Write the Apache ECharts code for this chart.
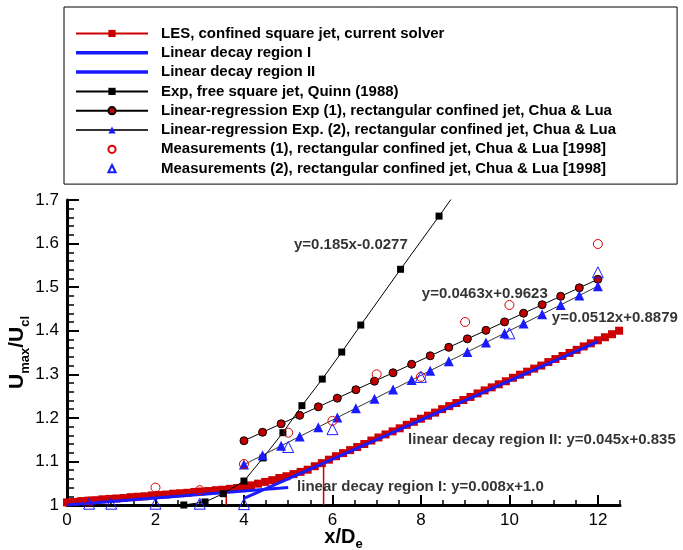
<!DOCTYPE html>
<html><head><meta charset="utf-8">
<script src="https://cdn.jsdelivr.net/npm/echarts@6/dist/echarts.min.js"></script>
<style>html,body{margin:0;padding:0;background:#fff}#c{width:683px;height:550px}</style>
</head><body><div id="c"></div>
<script>
// ---- data ----
const lesX = [0,0.16,0.32,0.48,0.64,0.8,0.96,1.12,1.28,1.44,1.6,1.76,1.92,2.08,2.24,2.4,2.56,2.72,2.88,3.04,3.2,3.36,3.52,3.68,3.84,4.0,4.16,4.32,4.48,4.64,4.8,4.96,5.12,5.28,5.44,5.6,5.76,5.92,6.08,6.24,6.4,6.56,6.72,6.88,7.04,7.2,7.36,7.52,7.68,7.84,8.0,8.16,8.32,8.48,8.64,8.8,8.96,9.12,9.28,9.44,9.6,9.76,9.92,10.08,10.24,10.4,10.56,10.72,10.88,11.04,11.2,11.36,11.52,11.68,11.84,12.0,12.16,12.32,12.48];
const lesY = [1.006,1.007,1.009,1.010,1.011,1.013,1.014,1.015,1.016,1.018,1.019,1.020,1.022,1.023,1.024,1.026,1.027,1.028,1.030,1.031,1.032,1.034,1.035,1.037,1.039,1.042,1.045,1.049,1.053,1.057,1.062,1.066,1.071,1.076,1.081,1.089,1.096,1.104,1.112,1.119,1.126,1.133,1.140,1.148,1.155,1.162,1.169,1.176,1.184,1.191,1.198,1.205,1.212,1.220,1.227,1.234,1.241,1.248,1.256,1.263,1.270,1.277,1.284,1.292,1.299,1.306,1.313,1.320,1.328,1.335,1.342,1.349,1.356,1.364,1.371,1.378,1.385,1.392,1.400];

const region1X = [0, 5];
const region1Y = [1.0, 1.04];
const region2X = [4, 12];
const region2Y = [1.015, 1.375];

const quinnX = [2.64,3.12,3.53,4.0,4.43,4.88,5.31,5.77,6.21,6.64,7.54,8.41,9.3];
const quinnY = [1.0,1.007,1.026,1.055,1.108,1.166,1.228,1.289,1.351,1.413,1.541,1.663,1.79];

const regX = [4.0,4.42,4.84,5.26,5.68,6.11,6.53,6.95,7.37,7.79,8.21,8.63,9.05,9.47,9.89,10.32,10.74,11.16,11.58,12.0];
const reg1Y = [1.1475,1.1669,1.1864,1.2058,1.2253,1.2452,1.2646,1.2841,1.3035,1.3230,1.3424,1.3619,1.3813,1.4008,1.4202,1.4401,1.4596,1.4790,1.4985,1.5179];
const reg2Y = [1.0927,1.1142,1.1357,1.1572,1.1787,1.2007,1.2222,1.2437,1.2652,1.2867,1.3083,1.3298,1.3513,1.3728,1.3943,1.4163,1.4378,1.4593,1.4808,1.5023];

const meas1X = [0.5,2,3,4,5,6,7,8,9,10,12];
const meas1Y = [1.008,1.040,1.034,1.094,1.166,1.193,1.300,1.294,1.420,1.459,1.599];
const meas2X = [0.5,1,2,3,4,5,6,8,10,12];
const meas2Y = [1.003,1.003,1.003,1.003,1.002,1.133,1.174,1.294,1.394,1.534];

const boundary1X = [3.6, 3.6];
const boundary1Y = [1.0, 1.037];
const boundary2X = [5.8, 5.8];
const boundary2Y = [1.0, 1.096];

const xMajorTicks = [0,2,4,6,8,10,12];

const seriesNames = [
  'LES, confined square jet, current solver',
  'Linear decay region I',
  'Linear decay region II',
  'Exp, free square jet, Quinn (1988)',
  'Linear-regression Exp (1), rectangular confined jet, Chua & Lua',
  'Linear-regression Exp. (2), rectangular confined jet, Chua & Lua',
  'Measurements (1), rectangular confined jet, Chua & Lua [1998]',
  'Measurements (2), rectangular confined jet, Chua & Lua [1998]'
];
const annotationTexts = [
  'y=0.185x-0.0277',
  'y=0.0463x+0.9623',
  'y=0.0512x+0.8879',
  'linear decay region II: y=0.045x+0.835',
  'linear decay region I: y=0.008x+1.0'
];

// ---- build ----
const zip = (xs, ys) => xs.map((x, i) => [x, ys[i]]);
const FONT = '"Liberation Sans", Arial, Helvetica, sans-serif';
const annotationPos = [[5.13,1.596],[8.02,1.484],[10.96,1.429],[7.71,1.149],[5.20,1.041]];
const thickLineIcon = 'path://M0,0L72,0L72,3.5L0,3.5Z';

const chart = echarts.init(document.getElementById('c'), null, {renderer: 'canvas'});
chart.setOption({
  animation: false,
  backgroundColor: '#fff',
  textStyle: {fontFamily: FONT},
  grid: {left: 67, right: 63, top: 200, bottom: 45, containLabel: false, outerBoundsMode: 'none'},
  legend: {
    data: seriesNames.map((n, i) => (i === 1 || i === 2) ? {name: n, icon: thickLineIcon} : {name: n}),
    orient: 'vertical',
    left: 64, top: 7,
    itemWidth: 72, itemHeight: 9, itemGap: 4.3,
    padding: [19, 61, 8, 11],
    borderColor: '#000', borderWidth: 1,
    backgroundColor: '#fff',
    textStyle: {fontFamily: FONT, fontSize: 15, fontWeight: 'bold', color: '#000', lineHeight: 15, padding: [0,0,0,8]}
  },
  xAxis: [{
    type: 'value', min: 0, max: 12.5, interval: 0.5, position: 'bottom',
    axisLine: {lineStyle: {color: '#000', width: 3}},
    axisTick: {inside: true, length: 5, lineStyle: {color: '#000', width: 1.5}},
    axisLabel: {show: false},
    splitLine: {show: false}
  }, {
    type: 'value', min: 0, max: 12.5, interval: 2, position: 'bottom',
    axisLine: {show: false},
    axisTick: {inside: true, length: 10, lineStyle: {color: '#000', width: 2}, customValues: xMajorTicks},
    axisLabel: {fontSize: 17, color: '#000', margin: 7, fontFamily: FONT, customValues: xMajorTicks},
    splitLine: {show: false},
    name: '{b|x/D}{s|e}', nameLocation: 'middle', nameGap: 18, nameMoveOverlap: false,
    nameTextStyle: {rich: {
      b: {fontSize: 20, fontWeight: 'bold', color: '#000', fontFamily: FONT, lineHeight: 28},
      s: {fontSize: 13, fontWeight: 'bold', color: '#000', fontFamily: FONT, lineHeight: 14, verticalAlign: 'bottom'}
    }}
  }],
  yAxis: {
    type: 'value', min: 1, max: 1.7, interval: 0.1,
    axisLine: {show: true, lineStyle: {color: '#000', width: 3}},
    axisTick: {inside: true, length: 12, lineStyle: {color: '#000', width: 2}},
    minorTick: {show: true, splitNumber: 5, length: 7, lineStyle: {color: '#000', width: 1.5}},
    axisLabel: {fontSize: 17, color: '#000', margin: 8, fontFamily: FONT},
    splitLine: {show: false},
    name: '{b|U}{s|max}{b|/U}{s|cl}', nameLocation: 'middle', nameRotate: 90, nameGap: 35, nameMoveOverlap: false,
    nameTextStyle: {rich: {
      b: {fontSize: 21, fontWeight: 'bold', color: '#000', fontFamily: FONT, lineHeight: 30},
      s: {fontSize: 13, fontWeight: 'bold', color: '#000', fontFamily: FONT, lineHeight: 14, verticalAlign: 'bottom'}
    }}
  },
  series: [
    {
      name: seriesNames[0], type: 'line', data: zip(lesX, lesY),
      symbol: 'rect', symbolSize: 8, showAllSymbol: true,
      lineStyle: {color: '#cc0000', width: 1},
      itemStyle: {color: '#cc0000'}, z: 2
    },
    {
      name: seriesNames[1], type: 'line', data: zip(region1X, region1Y), symbol: 'none',
      lineStyle: {color: '#1a1aff', width: 3}, itemStyle: {color: '#1a1aff'}, z: 3
    },
    {
      name: seriesNames[2], type: 'line', data: zip(region2X, region2Y), symbol: 'none',
      lineStyle: {color: '#1a1aff', width: 3}, itemStyle: {color: '#1a1aff'}, z: 3
    },
    {
      type: 'line', data: zip(boundary1X, boundary1Y), symbol: 'none',
      lineStyle: {color: '#cc0000', width: 1.5}, z: 3, silent: true
    },
    {
      type: 'line', data: zip(boundary2X, boundary2Y), symbol: 'none',
      lineStyle: {color: '#cc0000', width: 1.5}, z: 3, silent: true
    },
    {
      name: seriesNames[3], type: 'line', data: zip(quinnX, quinnY),
      symbol: 'rect', symbolSize: 7, showAllSymbol: true,
      lineStyle: {color: '#000', width: 1}, itemStyle: {color: '#000'}, z: 4
    },
    {
      name: seriesNames[4], type: 'line', data: zip(regX, reg1Y),
      symbol: 'circle', symbolSize: 8, showAllSymbol: true,
      lineStyle: {color: '#000', width: 1}, itemStyle: {color: '#c00000', borderColor: '#000', borderWidth: 1}, z: 4
    },
    {
      name: seriesNames[5], type: 'line', data: zip(regX, reg2Y),
      symbol: 'triangle', symbolSize: 10, showAllSymbol: true,
      lineStyle: {color: '#333', width: 1}, itemStyle: {color: '#1a1aff'}, z: 4
    },
    {
      name: seriesNames[6], type: 'line', data: zip(meas1X, meas1Y),
      symbol: 'circle', symbolSize: 9, showAllSymbol: true,
      lineStyle: {opacity: 0, width: 0},
      itemStyle: {color: 'rgba(255,255,255,0)', borderColor: '#e00000', borderWidth: 1}, z: 5
    },
    {
      name: seriesNames[7], type: 'line', data: zip(meas2X, meas2Y),
      symbol: 'triangle', symbolSize: 11, showAllSymbol: true,
      lineStyle: {opacity: 0, width: 0},
      itemStyle: {color: 'rgba(255,255,255,0)', borderColor: '#1a1aff', borderWidth: 1}, z: 5
    },
    {
      type: 'scatter', silent: true, symbolSize: 0, z: 6,
      data: annotationTexts.map((t, i) => ({value: annotationPos[i], text: t})),
      label: {
        show: true, position: [0, 0], align: 'left', verticalAlign: 'middle',
        formatter: p => p.data.text,
        fontFamily: FONT, fontSize: 15, fontWeight: 'bold', color: '#000'
      }
    }
  ]
});
</script>
</body></html>
